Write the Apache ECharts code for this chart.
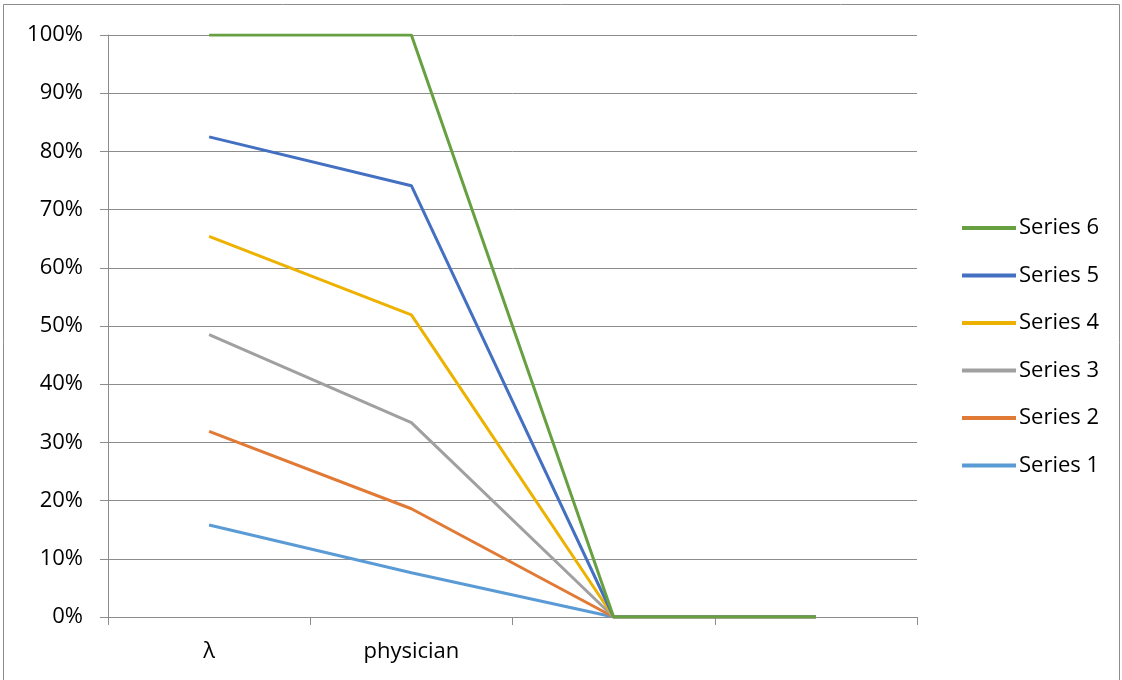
<!DOCTYPE html>
<html>
<head>
<meta charset="utf-8">
<script src="https://cdn.jsdelivr.net/npm/echarts@6/dist/echarts.min.js"></script>
<style>
html,body{margin:0;padding:0;background:#fff;}
#chart{width:1122px;height:680px;}
</style>
</head>
<body>
<div id="chart"></div>
<script>
const categories = ['λ', 'physician', '', ''];
const series1 = [15.8, 7.6, 0, 0];
const series2 = [31.9, 18.6, 0, 0];
const series3 = [48.5, 33.4, 0, 0];
const series4 = [65.4, 51.9, 0, 0];
const series5 = [82.5, 74.1, 0, 0];
const series6 = [100, 100, 0, 0];
const yTicks = [0, 10, 20, 30, 40, 50, 60, 70, 80, 90, 100];

const names = ['Series 1', 'Series 2', 'Series 3', 'Series 4', 'Series 5', 'Series 6'];
const colors = ['#5B9BD5', '#E07A34', '#A0A0A0', '#EDB200', '#4470C2', '#66A040'];
const datasets = [series1, series2, series3, series4, series5, series6];

const font = '"Open Sans", Lato, sans-serif';
const chart = echarts.init(document.getElementById('chart'));
chart.setOption({
  animation: false,
  graphic: [{
    type: 'rect', silent: true,
    shape: {x: 3.5, y: 4.5, width: 1116, height: 700},
    style: {fill: 'none', stroke: '#8c8c8c', lineWidth: 1}
  }],
  grid: {left: 108, right: 205, top: 35, bottom: 63, containLabel: false},
  legend: {
    orient: 'vertical',
    left: 957,
    top: 211,
    data: names.slice().reverse(),
    icon: 'rect',
    itemWidth: 54,
    itemHeight: 4,
    itemGap: 23.5,
    textStyle: {fontFamily: font, fontSize: 22, color: '#000', lineHeight: 24, padding: [0,0,0,-2]}
  },
  xAxis: {
    type: 'category',
    data: categories,
    boundaryGap: true,
    axisLine: {lineStyle: {color: '#8c8c8c', width: 1}},
    axisTick: {show: true, length: 8, lineStyle: {color: '#8c8c8c'}},
    axisLabel: {fontFamily: font, fontSize: 22, color: '#000', margin: 24}
  },
  yAxis: {
    type: 'value',
    min: yTicks[0],
    max: yTicks[yTicks.length - 1],
    interval: 10,
    axisLine: {show: true, lineStyle: {color: '#8c8c8c', width: 1}},
    axisTick: {show: true, length: 8, lineStyle: {color: '#8c8c8c'}},
    splitLine: {show: true, lineStyle: {color: '#8c8c8c', width: 1}},
    axisLabel: {fontFamily: font, fontSize: 22, color: '#000', margin: 25, formatter: v => v + '%'}
  },
  series: datasets.map((d, i) => ({
    name: names[i],
    type: 'line',
    data: d,
    symbol: 'none',
    color: colors[i],
    lineStyle: {width: 3, color: colors[i]},
    z: 2 + i
  }))
});
</script>
</body>
</html>
